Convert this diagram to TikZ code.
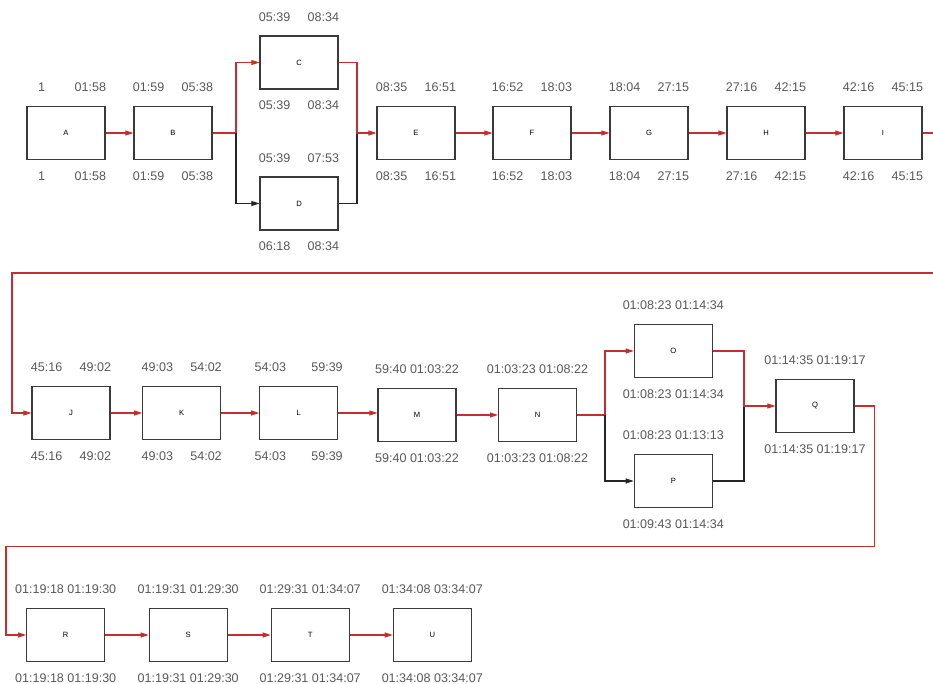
\documentclass[tikz,border=0pt]{standalone}
\usepackage{fontspec}
\setmainfont{Liberation Sans}
\usetikzlibrary{arrows.meta}

\definecolor{rojoruta}{RGB}{196,46,46}
\definecolor{grisborde}{RGB}{58,58,58}
\definecolor{gristexto}{RGB}{88,88,88}

% Dos campos de tiempo separados (inicio, fin)
\newcommand{\dupla}[3][0.51cm]{\makebox[0.95cm]{#2}\hspace{#1}\makebox[0.95cm]{#3}}
% Tiempos encima y debajo de una tarea
\newcommand{\horas}[3]{%
  \node[hora] (#1-ini) at ([yshift=0.56cm]#1.north) {#2};
  \node[hora] (#1-fin) at ([yshift=-0.48cm]#1.south) {#3};}

\begin{document}
\begin{tikzpicture}[x=0.03cm, y=-0.03cm, >={Triangle[length=0.24cm,width=0.15cm]}, line join=miter]
  \useasboundingbox (0,0) rectangle (933,684);

  % Estilos para tareas, tiempos y flechas
  \tikzset{
    tarea/.style={draw=grisborde, line width=1pt, fill=white, minimum width=2.34cm,
      minimum height=1.59cm, inner sep=0pt, font=\fontsize{6.5}{7}\selectfont},
    hora/.style={text=gristexto, inner sep=0pt, font=\fontsize{10.7}{13}\selectfont},
    ruta/.style={draw=rojoruta, line width=0.9pt},
    critica/.style={ruta, ->},
    libre/.style={draw=black!85, line width=0.9pt},
    holgura/.style={libre, ->}
  }

  % Fila 1
  \node[tarea] (A) at (66,133) {A};
  \node[tarea] (B) at (173,133) {B};
  \node[tarea] (C) at (299,62.5) {C};
  \node[tarea] (D) at (299,203.5) {D};
  \node[tarea] (E) at (416,133) {E};
  \node[tarea] (F) at (532,133) {F};
  \node[tarea] (G) at (649,133) {G};
  \node[tarea] (H) at (766,133) {H};
  \node[tarea] (I) at (883,133) {I};

  % Fila 2
  \node[tarea] (J) at (71,413) {J};
  \node[tarea] (K) at (181.7,413) {K};
  \node[tarea] (L) at (298.7,413) {L};
  \node[tarea] (M) at (417,415) {M};
  \node[tarea] (N) at (537.5,415) {N};
  \node[tarea] (O) at (673.3,351) {O};
  \node[tarea] (P) at (673.3,481) {P};
  \node[tarea] (Q) at (815,406) {Q};

  % Fila 3
  \node[tarea] (R) at (65.7,635) {R};
  \node[tarea] (S) at (188.2,635) {S};
  \node[tarea] (T) at (310.2,635) {T};
  \node[tarea] (U) at (432.3,635) {U};

  % Tiempos de inicio y fin
  \horas{A}{\dupla{1}{01:58}}{\dupla{1}{01:58}}
  \horas{B}{\dupla{01:59}{05:38}}{\dupla{01:59}{05:38}}
  \horas{C}{\dupla{05:39}{08:34}}{\dupla{05:39}{08:34}}
  \horas{D}{\dupla{05:39}{07:53}}{\dupla{06:18}{08:34}}
  \horas{E}{\dupla{08:35}{16:51}}{\dupla{08:35}{16:51}}
  \horas{F}{\dupla{16:52}{18:03}}{\dupla{16:52}{18:03}}
  \horas{G}{\dupla{18:04}{27:15}}{\dupla{18:04}{27:15}}
  \horas{H}{\dupla{27:16}{42:15}}{\dupla{27:16}{42:15}}
  \horas{I}{\dupla{42:16}{45:15}}{\dupla{42:16}{45:15}}
  \horas{J}{\dupla{45:16}{49:02}}{\dupla{45:16}{49:02}}
  \horas{K}{\dupla{49:03}{54:02}}{\dupla{49:03}{54:02}}
  \horas{L}{\dupla[0.75cm]{54:03}{59:39}}{\dupla[0.75cm]{54:03}{59:39}}
  \horas{M}{59:40 01:03:22}{59:40 01:03:22}
  \horas{N}{01:03:23 01:08:22}{01:03:23 01:08:22}
  \horas{O}{01:08:23 01:14:34}{01:08:23 01:14:34}
  \horas{P}{01:08:23 01:13:13}{01:09:43 01:14:34}
  \horas{Q}{01:14:35 01:19:17}{01:14:35 01:19:17}
  \horas{R}{01:19:18 01:19:30}{01:19:18 01:19:30}
  \horas{S}{01:19:31 01:29:30}{01:19:31 01:29:30}
  \horas{T}{01:29:31 01:34:07}{01:29:31 01:34:07}
  \horas{U}{01:34:08 03:34:07}{01:34:08 03:34:07}

  % Puntos de bifurcacion, union y quiebre
  \coordinate (sB) at (236,133);
  \coordinate (mE) at (357,133);
  \coordinate (codoI) at (950,273);
  \coordinate (codoJ) at (12,273);
  \coordinate (sN) at (605,415);
  \coordinate (mQ) at (744,406);
  \coordinate (codoQ) at (874.3,546.7);
  \coordinate (codoR) at (6,546.7);

  % Ruta fila 1
  \draw[critica] (A.east) -- (B.west);
  \draw[ruta] (B.east) -- (sB);
  \draw[critica] (sB) |- (C.west);
  \draw[holgura] (sB) |- (D.west);
  \draw[libre] (D.east) -| (mE);
  \draw[critica] (C.east) -| (mE) -- (E.west);
  \draw[critica] (E.east) -- (F.west);
  \draw[critica] (F.east) -- (G.west);
  \draw[critica] (G.east) -- (H.west);
  \draw[critica] (H.east) -- (I.west);
  \draw[critica] (I.east) -| (codoI) -- (codoJ) |- (J.west); % salto a fila 2

  % Ruta fila 2
  \draw[critica] (J.east) -- (K.west);
  \draw[critica] (K.east) -- (L.west);
  \draw[critica] (L.east) -- (L.east -| M.west);
  \draw[critica] (M.east) -- (M.east -| N.west);
  \draw[ruta] (N.east) -- (sN);
  \draw[critica] (sN) |- (O.west);
  \draw[holgura] (sN) |- (P.west);
  \draw[libre] (P.east) -| (mQ);
  \draw[critica] (O.east) -| (mQ) -- (Q.west);
  \draw[critica] (Q.east) -| (codoQ) -- (codoR) |- (R.west); % salto a fila 3

  % Ruta fila 3
  \draw[critica] (R.east) -- (S.west);
  \draw[critica] (S.east) -- (T.west);
  \draw[critica] (T.east) -- (U.west);
\end{tikzpicture}
\end{document}
